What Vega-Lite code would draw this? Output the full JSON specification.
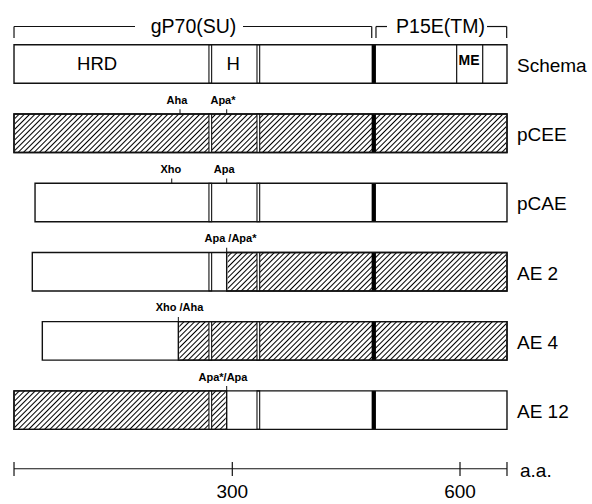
{
"$schema":"https://vega.github.io/schema/vega-lite/v6.json",
"width":592,"height":504,"padding":0,
"autosize":{"type":"fit","contains":"padding"},
"config":{"font":"Liberation Sans","view":{"stroke":null}},
"datasets":{
"constructs":[
{"name":"Schema","row":0,"start":12.4,"end":661.9},
{"name":"pCEE","row":1,"start":12.4,"end":661.9},
{"name":"pCAE","row":2,"start":40.1,"end":661.9},
{"name":"AE 2","row":3,"start":36.5,"end":661.9},
{"name":"AE 4","row":4,"start":49.7,"end":661.9},
{"name":"AE 12","row":5,"start":12.4,"end":661.9}],
"hatch":[
{"row":1,"start":12.4,"end":661.9},
{"row":3,"start":292.6,"end":661.9},
{"row":4,"start":228.9,"end":661.9},
{"row":5,"start":12.4,"end":292.6}],
"bounds":[
{"row":0,"pos":271.0,"kind":"double"},{"row":0,"pos":334.3,"kind":"double"},{"row":0,"pos":486.4,"kind":"tm"},
{"row":1,"pos":271.0,"kind":"double"},{"row":1,"pos":334.3,"kind":"double"},{"row":1,"pos":486.4,"kind":"tm"},
{"row":2,"pos":271.0,"kind":"double"},{"row":2,"pos":334.3,"kind":"double"},{"row":2,"pos":486.4,"kind":"tm"},
{"row":3,"pos":271.0,"kind":"double"},{"row":3,"pos":334.3,"kind":"double"},{"row":3,"pos":486.4,"kind":"tm"},
{"row":4,"pos":271.0,"kind":"double"},{"row":4,"pos":334.3,"kind":"double"},{"row":4,"pos":486.4,"kind":"tm"},
{"row":5,"pos":271.0,"kind":"double"},{"row":5,"pos":334.3,"kind":"double"},{"row":5,"pos":486.4,"kind":"tm"},
{"row":0,"pos":595.6,"kind":"me"},{"row":0,"pos":629.9,"kind":"me"}],
"regions":[
{"row":0,"pos":121.9,"label":"HRD"},{"row":0,"pos":301.3,"label":"H"}],
"me":[{"row":0,"pos":611.9,"label":"ME"}],
"sites":[
{"row":1,"pos":231.1,"lx":227.1,"label":"Aha"},
{"row":1,"pos":292.6,"lx":287.7,"label":"Apa*"},
{"row":2,"pos":220.2,"lx":219.0,"label":"Xho"},
{"row":2,"pos":292.6,"lx":289.3,"label":"Apa"},
{"row":3,"pos":292.6,"lx":297.6,"label":"Apa /Apa*"},
{"row":4,"pos":228.9,"lx":230.4,"label":"Xho /Aha"},
{"row":5,"pos":292.6,"lx":287.7,"label":"Apa*/Apa"}],
"bracketLines":[
{"row":0,"a":12.4,"b":171.8},{"row":0,"a":314.1,"b":483.7},
{"row":0,"a":489.3,"b":503.8},{"row":0,"a":635.6,"b":661.5}],
"bracketEnds":[{"row":0,"pos":12.4},{"row":0,"pos":483.7},{"row":0,"pos":489.3},{"row":0,"pos":661.5}],
"bracketLabels":[{"row":0,"pos":248.9,"label":"gP70(SU)"},{"row":0,"pos":574.3,"label":"P15E(TM)"}],
"scaleLine":[{"row":6,"a":12.4,"b":661.9,"unit":"a.a."}],
"scaleTicks":[{"row":6,"pos":12.4,"label":""},{"row":6,"pos":300,"label":"300"},{"row":6,"pos":600,"label":"600"},{"row":6,"pos":661.9,"label":""}]
},
"encoding":{"y":{"field":"row","type":"quantitative","scale":{"domain":[-0.8527,6.284],"reverse":true,"nice":false,"zero":false},"axis":null}},
"layer":[
{"data":{"name":"constructs"},"mark":{"type":"bar","orient":"horizontal","size":38.5,"fill":"#fff","strokeWidth":0},
 "encoding":{"x":{"field":"start","type":"quantitative","scale":{"domain":[-6.06,773.9],"nice":false,"zero":false},"axis":null},"x2":{"field":"end"}}},
{"data":{"name":"hatch"},"transform":[{"joinaggregate":[{"op":"min","field":"start","as":"lo"},{"op":"max","field":"end","as":"hi"}]}],
 "mark":{"type":"bar","orient":"horizontal","size":38.5,"strokeWidth":0,
 "fill":{"gradient":"linear","x1":0,"y1":0,"x2":1.0716,"y2":0.0837,"stops":[
{"offset":0,"color":"#000"},{"offset":0.0027,"color":"#fff"},{"offset":0.0073,"color":"#fff"},
{"offset":0.01,"color":"#000"},{"offset":0.0127,"color":"#fff"},{"offset":0.0173,"color":"#fff"},
{"offset":0.02,"color":"#000"},{"offset":0.0227,"color":"#fff"},{"offset":0.0273,"color":"#fff"},
{"offset":0.03,"color":"#000"},{"offset":0.0327,"color":"#fff"},{"offset":0.0373,"color":"#fff"},
{"offset":0.04,"color":"#000"},{"offset":0.0427,"color":"#fff"},{"offset":0.0473,"color":"#fff"},
{"offset":0.05,"color":"#000"},{"offset":0.0527,"color":"#fff"},{"offset":0.0573,"color":"#fff"},
{"offset":0.06,"color":"#000"},{"offset":0.0627,"color":"#fff"},{"offset":0.0673,"color":"#fff"},
{"offset":0.07,"color":"#000"},{"offset":0.0727,"color":"#fff"},{"offset":0.0773,"color":"#fff"},
{"offset":0.08,"color":"#000"},{"offset":0.0827,"color":"#fff"},{"offset":0.0873,"color":"#fff"},
{"offset":0.09,"color":"#000"},{"offset":0.0927,"color":"#fff"},{"offset":0.0973,"color":"#fff"},
{"offset":0.10,"color":"#000"},{"offset":0.1027,"color":"#fff"},{"offset":0.1073,"color":"#fff"},
{"offset":0.11,"color":"#000"},{"offset":0.1127,"color":"#fff"},{"offset":0.1173,"color":"#fff"},
{"offset":0.12,"color":"#000"},{"offset":0.1227,"color":"#fff"},{"offset":0.1273,"color":"#fff"},
{"offset":0.13,"color":"#000"},{"offset":0.1327,"color":"#fff"},{"offset":0.1373,"color":"#fff"},
{"offset":0.14,"color":"#000"},{"offset":0.1427,"color":"#fff"},{"offset":0.1473,"color":"#fff"},
{"offset":0.15,"color":"#000"},{"offset":0.1527,"color":"#fff"},{"offset":0.1573,"color":"#fff"},
{"offset":0.16,"color":"#000"},{"offset":0.1627,"color":"#fff"},{"offset":0.1673,"color":"#fff"},
{"offset":0.17,"color":"#000"},{"offset":0.1727,"color":"#fff"},{"offset":0.1773,"color":"#fff"},
{"offset":0.18,"color":"#000"},{"offset":0.1827,"color":"#fff"},{"offset":0.1873,"color":"#fff"},
{"offset":0.19,"color":"#000"},{"offset":0.1927,"color":"#fff"},{"offset":0.1973,"color":"#fff"},
{"offset":0.20,"color":"#000"},{"offset":0.2027,"color":"#fff"},{"offset":0.2073,"color":"#fff"},
{"offset":0.21,"color":"#000"},{"offset":0.2127,"color":"#fff"},{"offset":0.2173,"color":"#fff"},
{"offset":0.22,"color":"#000"},{"offset":0.2227,"color":"#fff"},{"offset":0.2273,"color":"#fff"},
{"offset":0.23,"color":"#000"},{"offset":0.2327,"color":"#fff"},{"offset":0.2373,"color":"#fff"},
{"offset":0.24,"color":"#000"},{"offset":0.2427,"color":"#fff"},{"offset":0.2473,"color":"#fff"},
{"offset":0.25,"color":"#000"},{"offset":0.2527,"color":"#fff"},{"offset":0.2573,"color":"#fff"},
{"offset":0.26,"color":"#000"},{"offset":0.2627,"color":"#fff"},{"offset":0.2673,"color":"#fff"},
{"offset":0.27,"color":"#000"},{"offset":0.2727,"color":"#fff"},{"offset":0.2773,"color":"#fff"},
{"offset":0.28,"color":"#000"},{"offset":0.2827,"color":"#fff"},{"offset":0.2873,"color":"#fff"},
{"offset":0.29,"color":"#000"},{"offset":0.2927,"color":"#fff"},{"offset":0.2973,"color":"#fff"},
{"offset":0.30,"color":"#000"},{"offset":0.3027,"color":"#fff"},{"offset":0.3073,"color":"#fff"},
{"offset":0.31,"color":"#000"},{"offset":0.3127,"color":"#fff"},{"offset":0.3173,"color":"#fff"},
{"offset":0.32,"color":"#000"},{"offset":0.3227,"color":"#fff"},{"offset":0.3273,"color":"#fff"},
{"offset":0.33,"color":"#000"},{"offset":0.3327,"color":"#fff"},{"offset":0.3373,"color":"#fff"},
{"offset":0.34,"color":"#000"},{"offset":0.3427,"color":"#fff"},{"offset":0.3473,"color":"#fff"},
{"offset":0.35,"color":"#000"},{"offset":0.3527,"color":"#fff"},{"offset":0.3573,"color":"#fff"},
{"offset":0.36,"color":"#000"},{"offset":0.3627,"color":"#fff"},{"offset":0.3673,"color":"#fff"},
{"offset":0.37,"color":"#000"},{"offset":0.3727,"color":"#fff"},{"offset":0.3773,"color":"#fff"},
{"offset":0.38,"color":"#000"},{"offset":0.3827,"color":"#fff"},{"offset":0.3873,"color":"#fff"},
{"offset":0.39,"color":"#000"},{"offset":0.3927,"color":"#fff"},{"offset":0.3973,"color":"#fff"},
{"offset":0.40,"color":"#000"},{"offset":0.4027,"color":"#fff"},{"offset":0.4073,"color":"#fff"},
{"offset":0.41,"color":"#000"},{"offset":0.4127,"color":"#fff"},{"offset":0.4173,"color":"#fff"},
{"offset":0.42,"color":"#000"},{"offset":0.4227,"color":"#fff"},{"offset":0.4273,"color":"#fff"},
{"offset":0.43,"color":"#000"},{"offset":0.4327,"color":"#fff"},{"offset":0.4373,"color":"#fff"},
{"offset":0.44,"color":"#000"},{"offset":0.4427,"color":"#fff"},{"offset":0.4473,"color":"#fff"},
{"offset":0.45,"color":"#000"},{"offset":0.4527,"color":"#fff"},{"offset":0.4573,"color":"#fff"},
{"offset":0.46,"color":"#000"},{"offset":0.4627,"color":"#fff"},{"offset":0.4673,"color":"#fff"},
{"offset":0.47,"color":"#000"},{"offset":0.4727,"color":"#fff"},{"offset":0.4773,"color":"#fff"},
{"offset":0.48,"color":"#000"},{"offset":0.4827,"color":"#fff"},{"offset":0.4873,"color":"#fff"},
{"offset":0.49,"color":"#000"},{"offset":0.4927,"color":"#fff"},{"offset":0.4973,"color":"#fff"},
{"offset":0.50,"color":"#000"},{"offset":0.5027,"color":"#fff"},{"offset":0.5073,"color":"#fff"},
{"offset":0.51,"color":"#000"},{"offset":0.5127,"color":"#fff"},{"offset":0.5173,"color":"#fff"},
{"offset":0.52,"color":"#000"},{"offset":0.5227,"color":"#fff"},{"offset":0.5273,"color":"#fff"},
{"offset":0.53,"color":"#000"},{"offset":0.5327,"color":"#fff"},{"offset":0.5373,"color":"#fff"},
{"offset":0.54,"color":"#000"},{"offset":0.5427,"color":"#fff"},{"offset":0.5473,"color":"#fff"},
{"offset":0.55,"color":"#000"},{"offset":0.5527,"color":"#fff"},{"offset":0.5573,"color":"#fff"},
{"offset":0.56,"color":"#000"},{"offset":0.5627,"color":"#fff"},{"offset":0.5673,"color":"#fff"},
{"offset":0.57,"color":"#000"},{"offset":0.5727,"color":"#fff"},{"offset":0.5773,"color":"#fff"},
{"offset":0.58,"color":"#000"},{"offset":0.5827,"color":"#fff"},{"offset":0.5873,"color":"#fff"},
{"offset":0.59,"color":"#000"},{"offset":0.5927,"color":"#fff"},{"offset":0.5973,"color":"#fff"},
{"offset":0.60,"color":"#000"},{"offset":0.6027,"color":"#fff"},{"offset":0.6073,"color":"#fff"},
{"offset":0.61,"color":"#000"},{"offset":0.6127,"color":"#fff"},{"offset":0.6173,"color":"#fff"},
{"offset":0.62,"color":"#000"},{"offset":0.6227,"color":"#fff"},{"offset":0.6273,"color":"#fff"},
{"offset":0.63,"color":"#000"},{"offset":0.6327,"color":"#fff"},{"offset":0.6373,"color":"#fff"},
{"offset":0.64,"color":"#000"},{"offset":0.6427,"color":"#fff"},{"offset":0.6473,"color":"#fff"},
{"offset":0.65,"color":"#000"},{"offset":0.6527,"color":"#fff"},{"offset":0.6573,"color":"#fff"},
{"offset":0.66,"color":"#000"},{"offset":0.6627,"color":"#fff"},{"offset":0.6673,"color":"#fff"},
{"offset":0.67,"color":"#000"},{"offset":0.6727,"color":"#fff"},{"offset":0.6773,"color":"#fff"},
{"offset":0.68,"color":"#000"},{"offset":0.6827,"color":"#fff"},{"offset":0.6873,"color":"#fff"},
{"offset":0.69,"color":"#000"},{"offset":0.6927,"color":"#fff"},{"offset":0.6973,"color":"#fff"},
{"offset":0.70,"color":"#000"},{"offset":0.7027,"color":"#fff"},{"offset":0.7073,"color":"#fff"},
{"offset":0.71,"color":"#000"},{"offset":0.7127,"color":"#fff"},{"offset":0.7173,"color":"#fff"},
{"offset":0.72,"color":"#000"},{"offset":0.7227,"color":"#fff"},{"offset":0.7273,"color":"#fff"},
{"offset":0.73,"color":"#000"},{"offset":0.7327,"color":"#fff"},{"offset":0.7373,"color":"#fff"},
{"offset":0.74,"color":"#000"},{"offset":0.7427,"color":"#fff"},{"offset":0.7473,"color":"#fff"},
{"offset":0.75,"color":"#000"},{"offset":0.7527,"color":"#fff"},{"offset":0.7573,"color":"#fff"},
{"offset":0.76,"color":"#000"},{"offset":0.7627,"color":"#fff"},{"offset":0.7673,"color":"#fff"},
{"offset":0.77,"color":"#000"},{"offset":0.7727,"color":"#fff"},{"offset":0.7773,"color":"#fff"},
{"offset":0.78,"color":"#000"},{"offset":0.7827,"color":"#fff"},{"offset":0.7873,"color":"#fff"},
{"offset":0.79,"color":"#000"},{"offset":0.7927,"color":"#fff"},{"offset":0.7973,"color":"#fff"},
{"offset":0.80,"color":"#000"},{"offset":0.8027,"color":"#fff"},{"offset":0.8073,"color":"#fff"},
{"offset":0.81,"color":"#000"},{"offset":0.8127,"color":"#fff"},{"offset":0.8173,"color":"#fff"},
{"offset":0.82,"color":"#000"},{"offset":0.8227,"color":"#fff"},{"offset":0.8273,"color":"#fff"},
{"offset":0.83,"color":"#000"},{"offset":0.8327,"color":"#fff"},{"offset":0.8373,"color":"#fff"},
{"offset":0.84,"color":"#000"},{"offset":0.8427,"color":"#fff"},{"offset":0.8473,"color":"#fff"},
{"offset":0.85,"color":"#000"},{"offset":0.8527,"color":"#fff"},{"offset":0.8573,"color":"#fff"},
{"offset":0.86,"color":"#000"},{"offset":0.8627,"color":"#fff"},{"offset":0.8673,"color":"#fff"},
{"offset":0.87,"color":"#000"},{"offset":0.8727,"color":"#fff"},{"offset":0.8773,"color":"#fff"},
{"offset":0.88,"color":"#000"},{"offset":0.8827,"color":"#fff"},{"offset":0.8873,"color":"#fff"},
{"offset":0.89,"color":"#000"},{"offset":0.8927,"color":"#fff"},{"offset":0.8973,"color":"#fff"},
{"offset":0.90,"color":"#000"},{"offset":0.9027,"color":"#fff"},{"offset":0.9073,"color":"#fff"},
{"offset":0.91,"color":"#000"},{"offset":0.9127,"color":"#fff"},{"offset":0.9173,"color":"#fff"},
{"offset":0.92,"color":"#000"},{"offset":0.9227,"color":"#fff"},{"offset":0.9273,"color":"#fff"},
{"offset":0.93,"color":"#000"},{"offset":0.9327,"color":"#fff"},{"offset":0.9373,"color":"#fff"},
{"offset":0.94,"color":"#000"},{"offset":0.9427,"color":"#fff"},{"offset":0.9473,"color":"#fff"},
{"offset":0.95,"color":"#000"},{"offset":0.9527,"color":"#fff"},{"offset":0.9573,"color":"#fff"},
{"offset":0.96,"color":"#000"},{"offset":0.9627,"color":"#fff"},{"offset":0.9673,"color":"#fff"},
{"offset":0.97,"color":"#000"},{"offset":0.9727,"color":"#fff"},{"offset":0.9773,"color":"#fff"},
{"offset":0.98,"color":"#000"},{"offset":0.9827,"color":"#fff"},{"offset":0.9873,"color":"#fff"},
{"offset":0.99,"color":"#000"},{"offset":0.9927,"color":"#fff"},{"offset":0.9973,"color":"#fff"},
{"offset":1,"color":"#000"}]}},
 "encoding":{"x":{"field":"lo","type":"quantitative","scale":{"domain":[-6.06,773.9],"nice":false,"zero":false},"axis":null},"x2":{"field":"hi"}}},
{"data":{"name":"hatch"},"transform":[{"joinaggregate":[{"op":"min","field":"start","as":"lo"},{"op":"max","field":"end","as":"hi"}]}],
 "mark":{"type":"bar","orient":"horizontal","size":40,"fill":"#fff","stroke":"#fff","strokeWidth":2},
 "encoding":{"x":{"field":"lo","type":"quantitative","scale":{"domain":[-6.06,773.9],"nice":false,"zero":false},"axis":null},"x2":{"field":"start"}}},
{"data":{"name":"hatch"},"transform":[{"joinaggregate":[{"op":"min","field":"start","as":"lo"},{"op":"max","field":"end","as":"hi"}]}],
 "mark":{"type":"bar","orient":"horizontal","size":40,"fill":"#fff","stroke":"#fff","strokeWidth":2},
 "encoding":{"x":{"field":"end","type":"quantitative","scale":{"domain":[-6.06,773.9],"nice":false,"zero":false},"axis":null},"x2":{"field":"hi"}}},
{"data":{"name":"hatch"},"mark":{"type":"bar","orient":"horizontal","size":38.5,"fill":"transparent","stroke":"#111","strokeWidth":1.4},
 "encoding":{"x":{"field":"start","type":"quantitative","scale":{"domain":[-6.06,773.9],"nice":false,"zero":false},"axis":null},"x2":{"field":"end"}}},
{"data":{"name":"bounds"},"transform":[{"filter":"datum.kind==='double'"}],
 "mark":{"type":"tick","orient":"vertical","size":38.5,"thickness":2.7,"fill":"#fff","stroke":"#111","strokeWidth":1.1,"opacity":1},
 "encoding":{"x":{"field":"pos","type":"quantitative","scale":{"domain":[-6.06,773.9],"nice":false,"zero":false},"axis":null}}},
{"data":{"name":"bounds"},"transform":[{"filter":"datum.kind==='tm'"}],
 "mark":{"type":"tick","orient":"vertical","size":38.5,"thickness":4.3,"color":"#000","opacity":1},
 "encoding":{"x":{"field":"pos","type":"quantitative","scale":{"domain":[-6.06,773.9],"nice":false,"zero":false},"axis":null}}},
{"data":{"name":"bounds"},"transform":[{"filter":"datum.kind==='me'"}],
 "mark":{"type":"tick","orient":"vertical","size":38.5,"thickness":1.2,"color":"#111","opacity":1},
 "encoding":{"x":{"field":"pos","type":"quantitative","scale":{"domain":[-6.06,773.9],"nice":false,"zero":false},"axis":null}}},
{"data":{"name":"constructs"},"mark":{"type":"bar","orient":"horizontal","size":38.5,"fill":"transparent","stroke":"#111","strokeWidth":1.4},
 "encoding":{"x":{"field":"start","type":"quantitative","scale":{"domain":[-6.06,773.9],"nice":false,"zero":false},"axis":null},"x2":{"field":"end"}}},
{"data":{"name":"regions"},"mark":{"type":"text","fontSize":18.5,"align":"center","baseline":"alphabetic","dy":6,"color":"#000"},
 "encoding":{"x":{"field":"pos","type":"quantitative","scale":{"domain":[-6.06,773.9],"nice":false,"zero":false},"axis":null},"text":{"field":"label"}}},
{"data":{"name":"me"},"mark":{"type":"text","fontSize":14,"fontWeight":"bold","align":"center","baseline":"alphabetic","dy":1,"color":"#000"},
 "encoding":{"x":{"field":"pos","type":"quantitative","scale":{"domain":[-6.06,773.9],"nice":false,"zero":false},"axis":null},"text":{"field":"label"}}},
{"data":{"name":"constructs"},"mark":{"type":"text","fontSize":19,"align":"left","baseline":"alphabetic","dx":10,"dy":8,"color":"#000"},
 "encoding":{"x":{"field":"end","type":"quantitative","scale":{"domain":[-6.06,773.9],"nice":false,"zero":false},"axis":null},"text":{"field":"name"}}},
{"data":{"name":"sites"},"mark":{"type":"tick","orient":"vertical","size":5,"thickness":1,"color":"#111","opacity":1,"yOffset":-21.5},
 "encoding":{"x":{"field":"pos","type":"quantitative","scale":{"domain":[-6.06,773.9],"nice":false,"zero":false},"axis":null}}},
{"data":{"name":"sites"},"mark":{"type":"text","fontSize":11,"fontWeight":"bold","align":"center","baseline":"alphabetic","dy":-29.5,"color":"#000"},
 "encoding":{"x":{"field":"lx","type":"quantitative","scale":{"domain":[-6.06,773.9],"nice":false,"zero":false},"axis":null},"text":{"field":"label"}}},
{"data":{"name":"bracketLines"},"mark":{"type":"rule","strokeWidth":1.2,"color":"#111","yOffset":-37.5},
 "encoding":{"x":{"field":"a","type":"quantitative","scale":{"domain":[-6.06,773.9],"nice":false,"zero":false},"axis":null},"x2":{"field":"b"}}},
{"data":{"name":"bracketEnds"},"mark":{"type":"tick","orient":"vertical","size":11.5,"thickness":1.2,"color":"#111","opacity":1,"yOffset":-31.8},
 "encoding":{"x":{"field":"pos","type":"quantitative","scale":{"domain":[-6.06,773.9],"nice":false,"zero":false},"axis":null}}},
{"data":{"name":"bracketLabels"},"mark":{"type":"text","fontSize":19.5,"align":"center","baseline":"alphabetic","dy":-31.5,"color":"#000"},
 "encoding":{"x":{"field":"pos","type":"quantitative","scale":{"domain":[-6.06,773.9],"nice":false,"zero":false},"axis":null},"text":{"field":"label"}}},
{"data":{"name":"scaleLine"},"mark":{"type":"rule","strokeWidth":1.2,"color":"#111","yOffset":-10.6},
 "encoding":{"x":{"field":"a","type":"quantitative","scale":{"domain":[-6.06,773.9],"nice":false,"zero":false},"axis":null},"x2":{"field":"b"}}},
{"data":{"name":"scaleTicks"},"mark":{"type":"tick","orient":"vertical","size":14,"thickness":1.2,"color":"#111","opacity":1,"yOffset":-10.4},
 "encoding":{"x":{"field":"pos","type":"quantitative","scale":{"domain":[-6.06,773.9],"nice":false,"zero":false},"axis":null}}},
{"data":{"name":"scaleTicks"},"mark":{"type":"text","fontSize":19,"align":"center","baseline":"alphabetic","dy":18.5,"color":"#000"},
 "encoding":{"x":{"field":"pos","type":"quantitative","scale":{"domain":[-6.06,773.9],"nice":false,"zero":false},"axis":null},"text":{"field":"label"}}},
{"data":{"name":"scaleLine"},"mark":{"type":"text","fontSize":19,"align":"left","baseline":"alphabetic","dx":13,"dy":-2,"color":"#000"},
 "encoding":{"x":{"field":"b","type":"quantitative","scale":{"domain":[-6.06,773.9],"nice":false,"zero":false},"axis":null},"text":{"field":"unit"}}}
]
}
